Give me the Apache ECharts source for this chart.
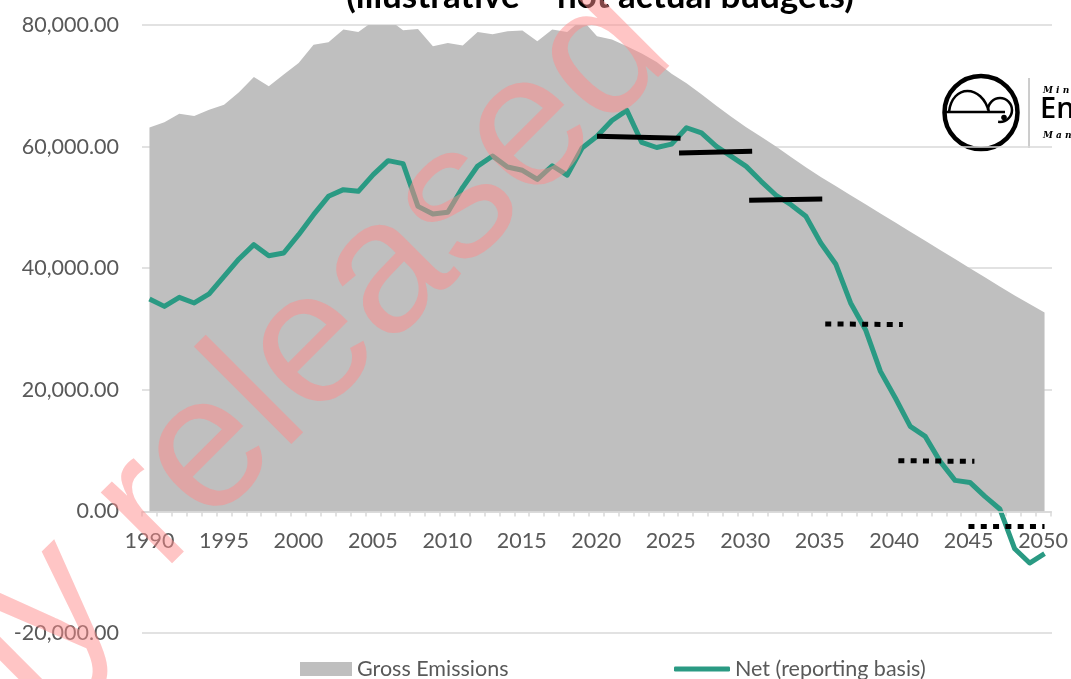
<!DOCTYPE html>
<html><head><meta charset="utf-8">
<script src="https://cdn.jsdelivr.net/npm/echarts@6/dist/echarts.min.js"></script>
<style>html,body{margin:0;padding:0;background:#fff}#c{width:1071px;height:679px}</style>
</head><body><div id="c"></div>
<script>
const years = ['1990','1991','1992','1993','1994','1995','1996','1997','1998','1999',
 '2000','2001','2002','2003','2004','2005','2006','2007','2008','2009',
 '2010','2011','2012','2013','2014','2015','2016','2017','2018','2019',
 '2020','2021','2022','2023','2024','2025','2026','2027','2028','2029',
 '2030','2031','2032','2033','2034','2035','2036','2037','2038','2039',
 '2040','2041','2042','2043','2044','2045','2046','2047','2048','2049','2050'];
const grossEmissions = [63160,63990,65420,65040,66080,66900,68930,71460,69910,71840,
 73760,76770,77150,79240,78860,80600,81000,79120,79350,76490,
 77050,76610,78860,78470,78960,79080,77320,79240,78860,80900,
 78140,77600,76490,75300,73900,72000,70400,68600,66700,64900,
 63200,61600,60000,58300,56600,55000,53500,52000,50500,49000,
 47500,46000,44500,43000,41500,40000,38500,37000,35500,34100,32700];
const netReporting = [34940,33720,35200,34280,35760,38660,41520,43870,42060,42500,
 45520,48800,51820,52920,52640,55390,57690,57200,50170,48920,
 49190,53300,56800,58450,56650,56100,54600,56850,55300,59780,
 61690,64300,65950,60700,59850,60400,63100,62250,60040,58400,
 56750,54290,52000,50450,48530,44150,40700,34280,29890,23030,
 18650,13980,12340,8225,5100,4770,2470,400,-6150,-8490,-6960];
// budget periods: [startYear, endYear, startLevel, endLevel]
const solidBudgets = [
 [2020.0, 2025.6, 61690, 61380],
 [2025.5, 2030.4, 58950, 59220],
 [2030.2, 2035.1, 51160, 51390]
];
const dottedBudgets = [
 [2035.3, 2040.5, 30840, 30720],
 [2040.2, 2045.3, 8340, 8230],
 [2044.9, 2050.0, -2470, -2470]
];
const yTicks = [-20000, 0, 20000, 40000, 60000, 80000];
const titleText = '(illustrative \u2013 not actual budgets)';
const watermarkText = 'Proactively released';

const TEAL = '#2a9a83';
const FONT = 'Lato';
const FS = 21.5;
const chart = echarts.init(document.getElementById('c'), null, {renderer:'canvas'});

const budgetSeries = [];
solidBudgets.forEach((b, i) => budgetSeries.push({
  name: 'budget' + i, type: 'line', xAxisIndex: 1, yAxisIndex: 0, symbol: 'none', silent: true, z: 4,
  data: [[b[0], b[2]], [b[1], b[3]]],
  lineStyle: {color: '#000', width: 5, cap: 'butt'}
}));
dottedBudgets.forEach((b, i) => budgetSeries.push({
  name: 'dbudget' + i, type: 'line', xAxisIndex: 1, yAxisIndex: 0, symbol: 'none', silent: true, z: 4,
  data: [[b[0], b[2]], [b[1], b[3]]],
  lineStyle: {color: '#000', width: 5, type: [6, 6.3], cap: 'butt'}
}));

const fmt = v => Number(v).toLocaleString('en-US', {minimumFractionDigits: 2, maximumFractionDigits: 2});

// main grid spans -20,000..80,000; the second grid ends exactly at the zero line and carries the year axis
const TOP = 25, BOTTOM = 46, H = 679 - TOP - BOTTOM;
const zeroFromBottom = BOTTOM + H * (0 - yTicks[0]) / (yTicks[yTicks.length - 1] - yTicks[0]);

const option = {
  animation: false,
  backgroundColor: '#fff',
  grid: [
    {left: 142, right: 19, top: TOP, bottom: BOTTOM},
    {left: 142, right: 19, top: TOP, bottom: zeroFromBottom}
  ],
  xAxis: [{
    type: 'category', data: years, boundaryGap: true, gridIndex: 0,
    axisLine: {show: false}, axisTick: {show: false}, axisLabel: {show: false}, splitLine: {show: false}
  }, {
    type: 'value', min: 1989.5, max: 2050.5, show: false, gridIndex: 0
  }, {
    type: 'category', data: years, boundaryGap: true, gridIndex: 1, position: 'bottom',
    axisLine: {onZero: false, lineStyle: {color: '#d9d9d9', width: 1.5}},
    axisTick: {show: true, interval: 0, length: 5, lineStyle: {color: '#d9d9d9', width: 1.5}},
    axisLabel: {interval: 4, margin: 19, fontFamily: FONT, fontSize: FS, color: '#595959'},
    splitLine: {show: false}, z: 5
  }],
  yAxis: [{
    type: 'value', min: yTicks[0], max: yTicks[yTicks.length - 1], interval: 20000, gridIndex: 0,
    axisLine: {show: false}, axisTick: {show: false},
    axisLabel: {formatter: fmt, margin: 23, fontFamily: FONT, fontSize: FS, color: '#595959'},
    splitLine: {lineStyle: {color: '#d9d9d9', width: 1.5}}
  }, {
    type: 'value', gridIndex: 1, show: false, min: 0, max: 1
  }],
  legend: [{
    data: ['Gross Emissions'], left: 295, top: 653, icon: 'rect', itemWidth: 52, itemHeight: 14,
    textStyle: {fontFamily: FONT, fontSize: FS, color: '#595959'}
  }, {
    data: [{name: 'Net (reporting basis)', icon: 'roundRect'}], left: 669, top: 653, itemWidth: 56, itemHeight: 5,
    textStyle: {fontFamily: FONT, fontSize: FS, color: '#595959'}
  }],
  series: [{
    name: 'Gross Emissions', type: 'line', data: grossEmissions, symbol: 'none', z: 1,
    lineStyle: {width: 0}, itemStyle: {color: '#bfbfbf'},
    areaStyle: {color: '#bfbfbf', opacity: 1}
  }, {
    name: 'Net (reporting basis)', type: 'line', data: netReporting, symbol: 'none', z: 3,
    lineStyle: {color: TEAL, width: 5, join: 'round'}, itemStyle: {color: TEAL}
  }].concat(budgetSeries),
  graphic: [
    {type: 'text', x: 600, y: -3, z: 50, style: {text: titleText, font: 'bold 35px Lato', fill: '#000', align: 'center', verticalAlign: 'middle'}},
    // logo
    {type: 'group', z: 50, children: [
      {type: 'rect', shape: {x: 938, y: 70, width: 82, height: 84}, style: {fill: '#fff'}},
      {type: 'circle', shape: {cx: 981, cy: 112.5, r: 36.5}, style: {fill: 'none', stroke: '#000', lineWidth: 4.5}},
      {type: 'line', shape: {x1: 946, y1: 112, x2: 1005, y2: 112}, style: {stroke: '#000', lineWidth: 2.5}},
      {type: 'bezierCurve', shape: {x1: 949, y1: 112, cpx1: 952, cpy1: 84, cpx2: 982, cpy2: 84, x2: 989, y2: 112}, style: {fill: 'none', stroke: '#000', lineWidth: 2.5}},
      {type: 'arc', shape: {cx: 1000, cy: 110, r: 12, startAngle: Math.PI, endAngle: Math.PI * 2.55, clockwise: true}, style: {fill: 'none', stroke: '#000', lineWidth: 2.5}},
      {type: 'circle', shape: {cx: 1004, cy: 117.5, r: 2.8}, style: {fill: '#000'}},
      {type: 'line', shape: {x1: 1029, y1: 78, x2: 1029, y2: 148}, style: {stroke: '#9a9a9a', lineWidth: 1}},
      {type: 'text', x: 1043, y: 91, style: {text: 'M i n i s t r y   f o r   t h e', font: 'italic bold 9px "DejaVu Serif"', fill: '#000', verticalAlign: 'middle'}},
      {type: 'text', x: 1040, y: 110, style: {text: 'Environment', font: '600 29px "Open Sans"', fill: '#000', verticalAlign: 'middle'}},
      {type: 'text', x: 1043, y: 136, style: {text: 'M a n a t \u016b   M \u014d   T e   T a i a o', font: 'italic bold 9px "DejaVu Serif"', fill: '#000', verticalAlign: 'middle'}}
    ]},
    {type: 'text', x: 641, y: 20, rotation: Math.PI / 4, z: 100, silent: true,
     style: {text: watermarkText, font: '190px "Liberation Sans"', fill: 'rgba(255,140,140,0.5)', align: 'right', verticalAlign: 'middle'}}
  ]
};
chart.setOption(option);
</script>
</body></html>
